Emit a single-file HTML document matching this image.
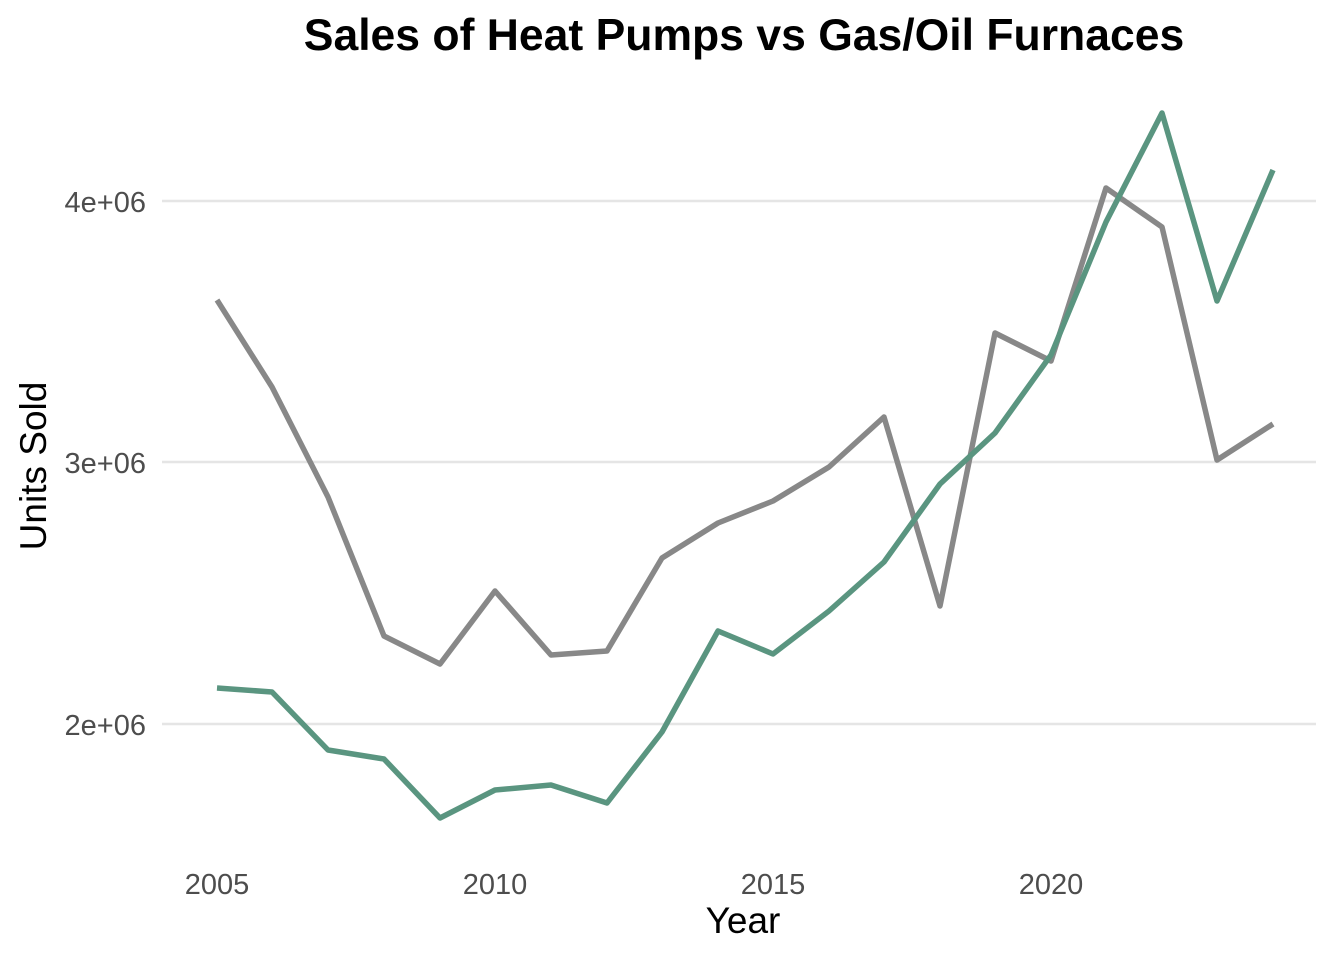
<!DOCTYPE html>
<html><head><meta charset="utf-8"><style>
html,body{margin:0;padding:0;background:#fff;}
svg{display:block;font-family:"Liberation Sans",Arial,sans-serif;}
</style></head><body>
<svg width="1344" height="960" viewBox="0 0 1344 960" xmlns="http://www.w3.org/2000/svg">
<rect width="1344" height="960" fill="#fff"/>
<text x="744" y="50" text-anchor="middle" font-size="44.5" font-weight="bold" fill="#000">Sales of Heat Pumps vs Gas/Oil Furnaces</text>
<g stroke="#e5e5e5" stroke-width="2.5">
<line x1="162" y1="201" x2="1316" y2="201"/>
<line x1="162" y1="462" x2="1316" y2="462"/>
<line x1="162" y1="724" x2="1316" y2="724"/>
</g>
<g font-size="29" fill="#4d4d4d" text-anchor="end">
<text x="146" y="212">4e+06</text>
<text x="146" y="473">3e+06</text>
<text x="146" y="735">2e+06</text>
</g>
<g font-size="29" fill="#4d4d4d" text-anchor="middle">
<text x="217" y="894">2005</text>
<text x="495" y="894">2010</text>
<text x="773" y="894">2015</text>
<text x="1051" y="894">2020</text>
</g>
<text x="743" y="933" text-anchor="middle" font-size="37" fill="#000">Year</text>
<text transform="translate(46,466) rotate(-90)" text-anchor="middle" font-size="37" fill="#000">Units Sold</text>
<polyline fill="none" stroke="#888888" stroke-width="5.5" stroke-linejoin="round" points="217,300 272,387 328,497 384,636 440,664 495,591 551,655 607,651 662,558 718,523 773,501 829,467 884,417 940,606 995,333 1051,361 1106,188 1162,227 1217,460 1273,424"/>
<polyline fill="none" stroke="#5a9580" stroke-width="5.5" stroke-linejoin="round" points="217,688 272,692 328,750 384,759 440,818 495,790 551,785 607,803 662,732 718,631 773,654 829,611 884,562 940,484 995,433 1051,355 1106,222 1162,113 1217,301 1273,170"/>
</svg>
</body></html>
